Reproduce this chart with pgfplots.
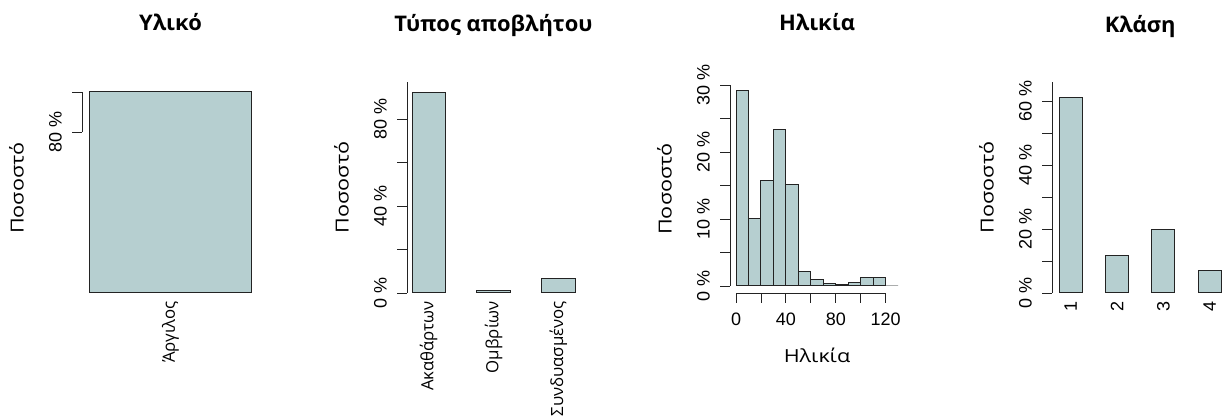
\documentclass[border=0pt]{standalone}
\usepackage{fontspec}
\setmainfont{Liberation Sans}
\newfontfamily\grl[FakeStretch=1.2]{Open Sans}
\newfontfamily\gr{Open Sans}
\newfontfamily\grt[FakeStretch=1.02]{Open Sans}
\usepackage{pgfplots}
\pgfplotsset{compat=1.18}
\definecolor{barfill}{RGB}{182,207,208}
\definecolor{ln}{RGB}{35,35,35}
\newcommand{\lblfont}{\fontsize{18}{20}\selectfont}
\newcommand{\grfont}{\gr\fontsize{16.8}{19}\selectfont}
\newcommand{\grlfont}{\grl\fontsize{18}{20}\selectfont}
\pgfplotsset{
  rpanel/.style={
    scale only axis,
    anchor=south west,
    clip=false,
    axis lines*=left,
    axis line style={draw=none},
    tick align=outside,
    major tick length=10pt,
    tick style={ln, line width=0.9pt},
    ymin=0,
    tick label style={font=\lblfont},
    yticklabel style={xshift=-10pt, rotate=90, anchor=south, inner sep=0pt},
    every axis y label/.style={at={(axis description cs:0,0.5)}, xshift=-58pt, rotate=90, anchor=south, inner sep=0pt, font=\grlfont},
    every axis x label/.style={at={(axis description cs:0.5,0)}, anchor=base, yshift=-70pt, inner sep=0pt, font=\grlfont},
    ylabel={Ποσοστό},
  },
  rbar/.style={
    rpanel,
    xtick align=inside,
    major x tick style={draw=none},
    xticklabel style={yshift=-8pt, rotate=90, anchor=east, inner sep=0pt, font=\grfont},
  },
  rtitle/.style={every axis title/.style={at={(axis description cs:0.5,1)}, anchor=base, yshift=#1, inner sep=0pt, font=\grt\bfseries\fontsize{21.5}{24}\selectfont}},
}
\begin{document}
\begin{tikzpicture}[x=1pt,y=1pt]
\useasboundingbox (0,0) rectangle (1223,417);
% Panel 1
\begin{axis}[rbar, at={(82pt,124pt)}, width=177pt, height=201pt,
  xmin=-0.543, xmax=0.543, ymax=100,
  ytick={80,100}, yticklabels={80 \%,{}},
  xtick={0}, xticklabels={Άργιλος},
  rtitle=61pt, title={Υλικό},
  every axis y label/.append style={at={(axis description cs:0,0.522)}}]
\addplot[ybar, bar width=1, bar shift=0pt, fill=barfill, draw=ln, line width=1pt] coordinates {(0,100)};
\draw[ln, line width=0.9pt] (axis cs:-0.543,80) -- (axis cs:-0.543,100);
\end{axis}
% Panel 2
\begin{axis}[rbar, at={(407pt,124pt)}, width=173pt, height=211pt,
  xmin=-0.331, xmax=2.331, ymax=97,
  y axis line style={draw=ln, line width=0.9pt},
  ytick={0,20,40,60,80}, yticklabels={0 \%,{},40 \%,{},80 \%},
  xtick={0,1,2}, xticklabels={Ακαθάρτων,Ομβρίων,Συνδυασμένος},
  rtitle=51pt, title={Τύπος αποβλήτου}]
\addplot[ybar, bar width=0.508, bar shift=0pt, fill=barfill, draw=ln, line width=1pt] coordinates {(0,92.3) (1,1.2) (2,6.5)};
\end{axis}
% Panel 3
\begin{axis}[rpanel, at={(730pt,124pt)}, width=174pt, height=208pt,
  xmin=-4.81, xmax=134.67, ymin=-1.045, ymax=30,
  ytick={0,5,10,15,20,25,30}, yticklabels={0 \%,{},10 \%,{},20 \%,{},30 \%},
  xtick={0,20,40,60,80,100,120}, xticklabels={0,{},40,{},80,{},120},
  xticklabel style={anchor=north, inner sep=0pt, yshift=-10pt},
  xlabel={Ηλικία},
  rtitle=54pt, title={Ηλικία}]
\addplot[ybar interval, fill=barfill, draw=ln, line width=1pt] coordinates {
  (0,29.2) (10,10.1) (20,15.7) (30,23.3) (40,15.2) (50,2.1) (60,0.95) (70,0.4) (80,0.2) (90,0.5) (100,1.3) (110,1.2) (120,0) (130,0)};
\draw[ln, line width=0.9pt] (axis cs:-4.81,0) -- (axis cs:-4.81,30);
\draw[ln, line width=0.9pt] (axis cs:0,-1.045) -- (axis cs:120,-1.045);
\end{axis}
% Panel 4
\begin{axis}[rbar, at={(1052pt,124pt)}, width=176.4pt, height=211pt,
  xmin=-0.404, xmax=3.404, ymax=66.1,
  y axis line style={draw=ln, line width=0.9pt},
  ytick={0,10,20,30,40,50,60}, yticklabels={0 \%,{},20 \%,{},40 \%,{},60 \%},
  xtick={0,1,2,3}, xticklabels={1,2,3,4},
  xticklabel style={font=\lblfont},
  rtitle=49pt, title={Κλάση}]
\addplot[ybar, bar width=0.5, bar shift=0pt, fill=barfill, draw=ln, line width=1pt] coordinates {(0,61.1) (1,11.7) (2,20.0) (3,7.2)};
\end{axis}
\end{tikzpicture}
\end{document}
